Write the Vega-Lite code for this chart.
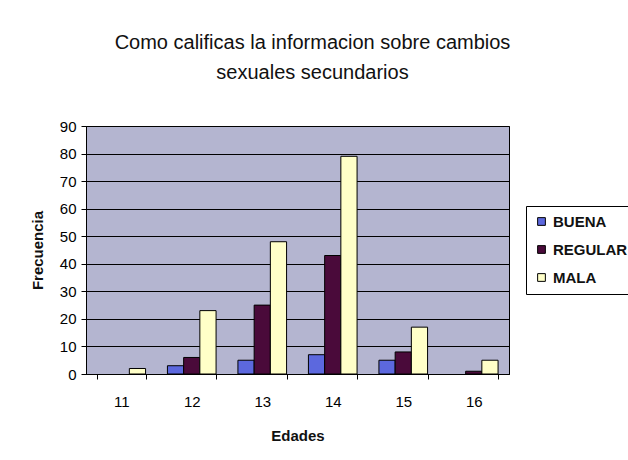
{
  "$schema": "https://vega.github.io/schema/vega-lite/v6.json",
  "autosize": "none",
  "width": 423,
  "height": 248,
  "padding": {"left": 86, "top": 126, "right": 119, "bottom": 86},
  "background": "#ffffff",
  "title": {
    "text": ["Como calificas la informacion sobre cambios", "sexuales secundarios"],
    "font": "Liberation Sans",
    "fontSize": 20,
    "fontWeight": "normal",
    "color": "#111111",
    "lineHeight": 30,
    "anchor": "middle",
    "dx": 15,
    "offset": 36
  },
  "data": {
    "values": [
      {"edad": "11", "cal": "BUENA", "f": 0},
      {"edad": "11", "cal": "REGULAR", "f": 0},
      {"edad": "11", "cal": "MALA", "f": 2},
      {"edad": "12", "cal": "BUENA", "f": 3},
      {"edad": "12", "cal": "REGULAR", "f": 6},
      {"edad": "12", "cal": "MALA", "f": 23},
      {"edad": "13", "cal": "BUENA", "f": 5},
      {"edad": "13", "cal": "REGULAR", "f": 25},
      {"edad": "13", "cal": "MALA", "f": 48},
      {"edad": "14", "cal": "BUENA", "f": 7},
      {"edad": "14", "cal": "REGULAR", "f": 43},
      {"edad": "14", "cal": "MALA", "f": 79},
      {"edad": "15", "cal": "BUENA", "f": 5},
      {"edad": "15", "cal": "REGULAR", "f": 8},
      {"edad": "15", "cal": "MALA", "f": 17},
      {"edad": "16", "cal": "BUENA", "f": 0},
      {"edad": "16", "cal": "REGULAR", "f": 1},
      {"edad": "16", "cal": "MALA", "f": 5}
    ]
  },
  "transform": [{"filter": "datum.f > 0"}],
  "mark": {"type": "bar", "stroke": "#000000", "strokeWidth": 1},
  "encoding": {
    "x": {
      "field": "edad",
      "type": "nominal",
      "scale": {"domain": ["11", "12", "13", "14", "15", "16"], "paddingInner": 0.31, "paddingOuter": 0.155},
      "axis": {
        "title": "Edades",
        "labelAngle": 0,
        "tickBand": "extent",
        "tickSize": 5,
        "tickColor": "#000000",
        "domainColor": "#000000",
        "labelPadding": 15,
        "labelFontSize": 15,
        "labelFont": "Liberation Sans",
        "labelColor": "#000000",
        "titleFont": "Liberation Sans",
        "titleFontSize": 15,
        "titleFontWeight": "bold",
        "titleColor": "#111111",
        "titlePadding": 19
      }
    },
    "xOffset": {"field": "cal", "type": "nominal", "sort": ["BUENA", "REGULAR", "MALA"], "scale": {"domain": ["BUENA", "REGULAR", "MALA"], "paddingInner": 0, "paddingOuter": 0}},
    "y": {
      "field": "f",
      "type": "quantitative",
      "scale": {"domain": [0, 90], "nice": false},
      "axis": {
        "title": "Frecuencia",
        "values": [0, 10, 20, 30, 40, 50, 60, 70, 80, 90],
        "grid": true,
        "gridColor": "#000000",
        "gridOpacity": 1,
        "gridWidth": 1,
        "tickSize": 5,
        "tickColor": "#000000",
        "domainColor": "#000000",
        "labelPadding": 5,
        "labelFontSize": 15,
        "labelFont": "Liberation Sans",
        "labelColor": "#000000",
        "titleFont": "Liberation Sans",
        "titleFontSize": 15,
        "titleFontWeight": "bold",
        "titleColor": "#111111",
        "titlePadding": 14
      }
    },
    "fill": {
      "field": "cal",
      "type": "nominal",
      "sort": ["BUENA", "REGULAR", "MALA"],
      "scale": {"domain": ["BUENA", "REGULAR", "MALA"], "range": ["#5c68de", "#4a0a3a", "#ffffc8"]},
      "legend": {
        "title": null,
        "orient": "none",
        "legendX": 440,
        "legendY": 80,
        "strokeColor": "#000000",
        "padding": 8,
        "symbolType": "square",
        "symbolSize": 60,
        "symbolStrokeColor": "#000000",
        "symbolStrokeWidth": 1,
        "labelFont": "Liberation Sans",
        "labelFontSize": 15,
        "labelFontWeight": "bold",
        "labelColor": "#111111",
        "rowPadding": 12,
        "labelOffset": 4
      }
    }
  },
  "config": {
    "view": {"fill": "#b4b5d0", "stroke": "#000000", "strokeWidth": 1}
  }
}
